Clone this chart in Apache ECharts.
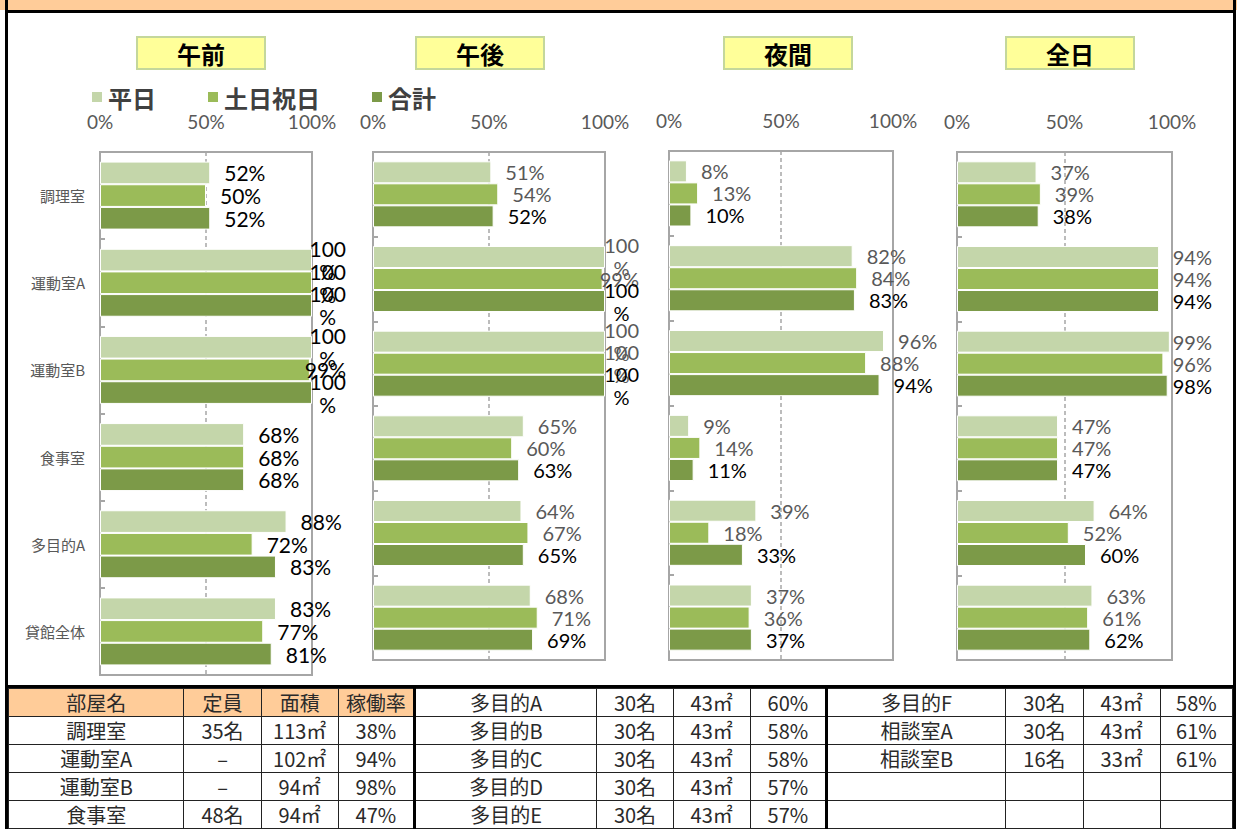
<!DOCTYPE html>
<html>
<head>
<meta charset="utf-8">
<script src="https://cdn.jsdelivr.net/npm/echarts@6/dist/echarts.min.js"></script>
<style>
  body { margin: 0; background: #fff; }
  #wrap { position: relative; width: 1237px; height: 829px; overflow: hidden; background: #fff; }
  #topbar { position: absolute; left: 0; top: 0; width: 1237px; height: 10px; background: #FFCC99; }
  .hline { position: absolute; background: #000; }
  .vline { position: absolute; background: #000; }
  #chart { position: absolute; left: 0; top: 0; width: 1237px; height: 686px; }
  #tbl { position: absolute; left: 8px; top: 688px; width: 1225px; border-collapse: collapse; table-layout: fixed;
    font-family: 'Noto Sans CJK JP', sans-serif; font-size: 20px; color: #2a2a2a; }
  #tbl td { border: 1px solid #222; text-align: center; padding: 0; height: 27px; line-height: 27px; white-space: nowrap; overflow: hidden; }
  #tbl td.head { background: #FFCC99; }
  #tbl td.thick { border-left: 3px solid #000; }
</style>
</head>
<body>
<div id="wrap">
  <div id="topbar"></div>
  <div class="hline" style="left:5px;top:10px;width:1231px;height:3px"></div>
  <div id="chart"></div>
  <div class="hline" style="left:5px;top:685px;width:1231px;height:3px"></div>
  <table id="tbl"></table>
  <div class="vline" style="left:5px;top:0;width:3px;height:829px"></div>
  <div class="vline" style="left:1233px;top:0;width:3px;height:829px"></div>
</div>
<script>
// 凡例・カテゴリ
const categories = ['調理室', '運動室A', '運動室B', '食事室', '多目的A', '貸館全体']
const seriesNames = ['平日', '土日祝日', '合計']
const panelTitles = ['午前', '午後', '夜間', '全日']
const xTicks = [0, 50, 100]

// 稼働率（%）
const amWeekday = [52, 100, 100, 68, 88, 83]
const amHoliday = [50, 100, 99, 68, 72, 77]
const amTotal = [52, 100, 100, 68, 83, 81]
const pmWeekday = [51, 100, 100, 65, 64, 68]
const pmHoliday = [54, 99, 100, 60, 67, 71]
const pmTotal = [52, 100, 100, 63, 65, 69]
const nightWeekday = [8, 82, 96, 9, 39, 37]
const nightHoliday = [13, 84, 88, 14, 18, 36]
const nightTotal = [10, 83, 94, 11, 33, 37]
const allWeekday = [37, 94, 99, 47, 64, 63]
const allHoliday = [39, 94, 96, 47, 52, 61]
const allTotal = [38, 94, 98, 47, 60, 62]

// 下の表
const tableHeader = ['部屋名', '定員', '面積', '稼働率']
const tableLeft = [
  ['調理室', '35名', '113㎡', '38%'],
  ['運動室A', '–', '102㎡', '94%'],
  ['運動室B', '–', '94㎡', '98%'],
  ['食事室', '48名', '94㎡', '47%']
]
const tableMid = [
  ['多目的A', '30名', '43㎡', '60%'],
  ['多目的B', '30名', '43㎡', '58%'],
  ['多目的C', '30名', '43㎡', '58%'],
  ['多目的D', '30名', '43㎡', '57%'],
  ['多目的E', '30名', '43㎡', '57%']
]
const tableRight = [
  ['多目的F', '30名', '43㎡', '58%'],
  ['相談室A', '30名', '43㎡', '61%'],
  ['相談室B', '16名', '33㎡', '61%'],
  ['', '', '', ''],
  ['', '', '', '']
]

const barColors = ['#C4D6AA', '#9BBB59', '#7C9A48']
const cjk = "'Noto Sans CJK JP', sans-serif"

const panels = [
  { data: [amWeekday, amHoliday, amTotal], left: 100, top: 152, width: 212, height: 523, edge: 346, font: 21, labelColors: ['#000', '#000', '#000'], titleLeft: 137 },
  { data: [pmWeekday, pmHoliday, pmTotal], left: 373, top: 152, width: 232, height: 508, edge: 639, font: 20, labelColors: ['#595959', '#595959', '#000'], titleLeft: 416 },
  { data: [nightWeekday, nightHoliday, nightTotal], left: 669, top: 151, width: 224, height: 509, edge: 941, font: 20, labelColors: ['#595959', '#595959', '#000'], titleLeft: 724 },
  { data: [allWeekday, allHoliday, allTotal], left: 957, top: 152, width: 215, height: 508, edge: 1212, font: 20, labelColors: ['#595959', '#595959', '#000'], titleLeft: 1006 }
]

// 文字幅計測
const measureCtx = document.createElement('canvas').getContext('2d')
function textWidth(text, size) {
  measureCtx.font = size + 'px Lato'
  return measureCtx.measureText(text).width
}

const labelDistance = 14

// ラベルがはみ出す場合は左へ寄せる（Excel風）
function makeItem(v, p) {
  const barEnd = p.left + v / 100 * p.width
  const start = barEnd + labelDistance
  if (v === 100) {
    const w = textWidth('100', p.font)
    const dx = Math.min(start, p.edge - w) - start
    return { value: v, label: { formatter: '100\n%', align: 'center', lineHeight: 23, offset: [dx + w / 2, 0] } }
  }
  const w = textWidth(v + '%', p.font)
  const dx = Math.min(start, p.edge - w) - start
  if (dx < 0) return { value: v, label: { offset: [dx, 0] } }
  return v
}

const chart = echarts.init(document.getElementById('chart'), null, { renderer: 'svg' })

const grid = []
const xAxis = []
const yAxis = []
const series = []
const title = []

panels.forEach((p, i) => {
  grid.push({
    left: p.left, top: p.top, width: p.width, height: p.height,
    show: true, borderColor: '#A6A6A6', borderWidth: 2, backgroundColor: 'transparent'
  })
  xAxis.push({
    gridIndex: i, type: 'value', position: 'top', min: xTicks[0], max: xTicks[2], interval: xTicks[1] - xTicks[0],
    axisLine: { show: false }, axisTick: { show: false },
    axisLabel: { formatter: '{value}%', fontSize: 19, color: '#595959', fontFamily: 'Lato', margin: 21 },
    splitLine: { show: true, lineStyle: { color: '#A6A6A6', type: [4, 3], width: 1.5 } }
  })
  yAxis.push({
    gridIndex: i, type: 'category', inverse: true, data: categories,
    axisLine: { show: false },
    axisTick: { show: true, inside: true, length: 5, lineStyle: { color: '#A6A6A6', width: 2 } },
    axisLabel: { show: i === 0, fontSize: 15, color: '#595959', fontFamily: cjk, margin: 15 }
  })
  title.push({
    text: panelTitles[i], left: p.titleLeft, top: 37,
    backgroundColor: '#FFFF99', borderColor: '#C4D79B', borderWidth: 2,
    padding: [3, 40],
    textStyle: { fontSize: 24, fontWeight: 'bold', color: '#000', fontFamily: cjk, lineHeight: 26 }
  })
  p.data.forEach((vals, k) => {
    series.push({
      name: seriesNames[k], type: 'bar', xAxisIndex: i, yAxisIndex: i,
      data: vals.map(v => makeItem(v, p)),
      barGap: '0%', barCategoryGap: '22%',
      itemStyle: { color: barColors[k], borderColor: '#fff', borderWidth: 1 },
      label: {
        show: true, position: 'right', distance: labelDistance, formatter: '{c}%',
        fontSize: p.font, fontFamily: 'Lato', color: p.labelColors[k]
      },
      emphasis: { disabled: true }
    })
  })
})

chart.setOption({
  animation: false,
  title,
  legend: {
    data: seriesNames, left: 85, top: 80, icon: 'rect', itemWidth: 12, itemHeight: 12, itemGap: 50,
    textStyle: { fontSize: 24, fontWeight: 'bold', color: '#404040', fontFamily: cjk }
  },
  grid, xAxis, yAxis, series
})

// 表を組み立て
const colWidths = [175, 77, 77, 76, 182, 76, 77, 76, 179, 77, 77, 72]
const tbl = document.getElementById('tbl')
const cg = document.createElement('colgroup')
colWidths.forEach(w => { const c = document.createElement('col'); c.style.width = w + 'px'; cg.appendChild(c) })
tbl.appendChild(cg)
for (let r = 0; r < 5; r++) {
  const tr = document.createElement('tr')
  const left = r === 0 ? tableHeader : tableLeft[r - 1]
  const cells = [...left, ...tableMid[r], ...tableRight[r]]
  cells.forEach((t, c) => {
    const td = document.createElement('td')
    td.textContent = t
    if (r === 0 && c < 4) td.className = 'head'
    if (c === 4 || c === 8) td.className += ' thick'
    tr.appendChild(td)
  })
  tbl.appendChild(tr)
}
</script>
</body>
</html>
